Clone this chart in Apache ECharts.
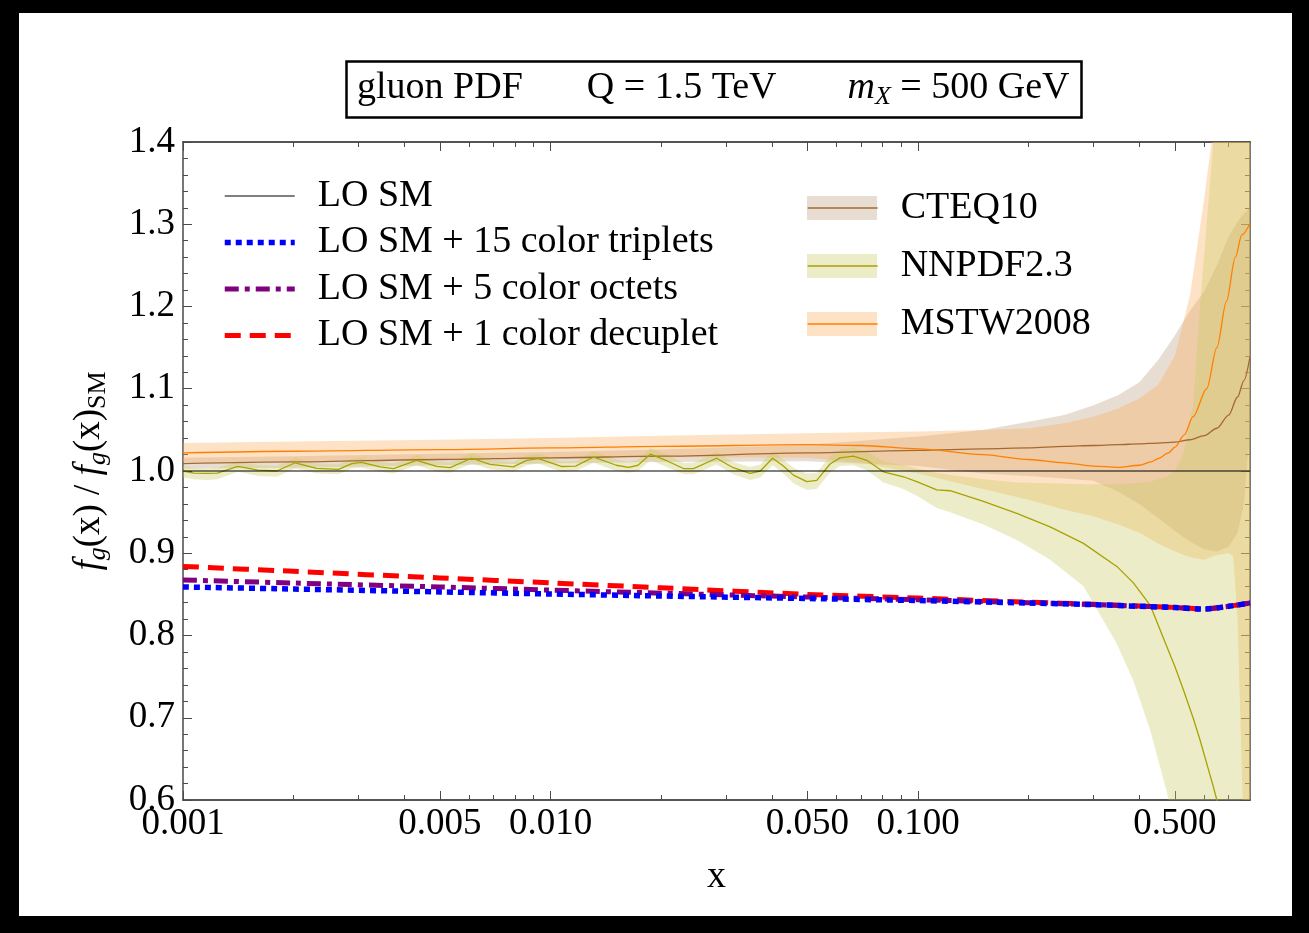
<!DOCTYPE html>
<html>
<head>
<meta charset="utf-8">
<title>gluon PDF ratio</title>
<script src="https://cdn.jsdelivr.net/npm/echarts@6/dist/echarts.min.js"></script>
<style>
  html, body { margin: 0; padding: 0; background: #000; }
  #chart { width: 1309px; height: 933px; }
</style>
</head>
<body>
<div id="chart"></div>
<script>
// x grid of the LO curves and the ratios f_g(x) / f_g(x)_SM
const xSM = [0.001, 0.002, 0.005, 0.01, 0.02, 0.05, 0.1, 0.2, 0.3, 0.4, 0.5, 0.6, 0.7, 0.8]
const loSM = [1, 1, 1, 1, 1, 1, 1, 1, 1, 1, 1, 1, 1, 1]
const triplets = [0.859, 0.8565, 0.853, 0.8505, 0.848, 0.845, 0.8425, 0.8395, 0.8375, 0.8355, 0.834, 0.8322, 0.8355, 0.8395]
const octets = [0.8675, 0.8638, 0.859, 0.8552, 0.8515, 0.8468, 0.8435, 0.8398, 0.8376, 0.8356, 0.834, 0.8322, 0.8355, 0.8395]
const decuplet = [0.884, 0.878, 0.87, 0.864, 0.858, 0.85, 0.8455, 0.8405, 0.838, 0.8358, 0.8341, 0.8323, 0.8355, 0.8395]

// CTEQ10: central value and band
const xCT = [0.001, 0.002, 0.005, 0.01, 0.02, 0.05, 0.1, 0.15, 0.2, 0.25, 0.3, 0.35, 0.4, 0.45, 0.5, 0.55, 0.6, 0.65, 0.7, 0.74, 0.77, 0.8]
const ctMid = [1.009, 1.011, 1.014, 1.016, 1.018, 1.022, 1.025, 1.027, 1.028, 1.03, 1.031, 1.032, 1.033, 1.034, 1.035, 1.038, 1.043, 1.052, 1.068, 1.09, 1.11, 1.139]
const ctUp = [1.016, 1.018, 1.021, 1.023, 1.026, 1.032, 1.042, 1.05, 1.06, 1.068, 1.08, 1.092, 1.108, 1.135, 1.165, 1.195, 1.218, 1.25, 1.285, 1.303, 1.313, 1.32]
const ctLo = [1.003, 1.004, 1.007, 1.009, 1.011, 1.012, 1.006, 0.997, 0.994, 0.991, 0.988, 0.975, 0.96, 0.943, 0.927, 0.914, 0.905, 0.902, 0.908, 0.925, 0.96, 1.05]

// MSTW2008: band grid and central grid
const xMS = [0.001, 0.002, 0.005, 0.01, 0.02, 0.05, 0.07, 0.1, 0.15, 0.2, 0.25, 0.3, 0.35, 0.4, 0.45, 0.5, 0.55, 0.6, 0.65, 0.7, 0.72, 0.74, 0.77, 0.8]
const msUp = [1.034, 1.036, 1.038, 1.04, 1.043, 1.046, 1.047, 1.048, 1.05, 1.052, 1.058, 1.066, 1.076, 1.088, 1.105, 1.14, 1.215, 1.33, 1.45, 1.6, 1.66, 1.72, 1.85, 2.0]
const msLo = [1.011, 1.012, 1.014, 1.015, 1.017, 1.016, 1.01, 0.997, 0.978, 0.965, 0.953, 0.945, 0.935, 0.925, 0.912, 0.902, 0.895, 0.892, 0.898, 0.9, 0.896, 0.82, 0.55, 0.3]
const xMSL = [0.001, 0.002, 0.005, 0.01, 0.02, 0.05, 0.07, 0.1, 0.15, 0.2, 0.25, 0.3, 0.35, 0.4, 0.43, 0.45, 0.48, 0.5, 0.53, 0.56, 0.61, 0.65, 0.69, 0.73, 0.76, 0.8]
const msMid = [1.022, 1.024, 1.026, 1.028, 1.03, 1.032, 1.031, 1.027, 1.02, 1.014, 1.01, 1.006, 1.0045, 1.007, 1.011, 1.015, 1.022, 1.029, 1.044, 1.066, 1.1, 1.15, 1.206, 1.26, 1.287, 1.301]

// NNPDF2.3 (wiggly, so many points)
const xNN = [
  0.001, 0.00107, 0.00116, 0.00124, 0.00141, 0.0016, 0.0018, 0.00202, 0.00231, 0.00265,
  0.00288, 0.00306, 0.00344, 0.00374, 0.00432, 0.0049, 0.00533, 0.0061, 0.00685, 0.00792,
  0.00861, 0.00927, 0.0107, 0.0117, 0.0131, 0.0151, 0.0163, 0.0173, 0.0187, 0.0207,
  0.023, 0.0245, 0.0283, 0.0314, 0.0349, 0.0372, 0.0402, 0.043, 0.0458, 0.0498,
  0.053, 0.0576, 0.0613, 0.0667, 0.0725, 0.0805, 0.0912, 0.0992, 0.1124, 0.1222,
  0.1506, 0.1856, 0.2287, 0.2818, 0.3473, 0.3853, 0.4279, 0.475, 0.5, 0.527,
  0.56, 0.585, 0.636, 0.65, 0.672, 0.7, 0.75, 0.8
]
const nnMid = [
  1.0, 0.9975, 0.997, 0.9975, 1.0055, 1.001, 1.0, 1.01, 1.0033, 1.002,
  1.009, 1.0105, 1.005, 1.003, 1.013, 1.0055, 1.004, 1.0155, 1.008, 1.005,
  1.013, 1.015, 1.0055, 1.006, 1.017, 1.007, 1.0045, 1.007, 1.0205, 1.0125,
  1.003, 1.003, 1.0155, 1.004, 0.997, 1.0, 1.0155, 1.006, 0.995, 0.987,
  0.9885, 1.0085, 1.016, 1.018, 1.013, 0.999, 0.993, 0.987, 0.977, 0.976,
  0.963, 0.9485, 0.932, 0.912, 0.884, 0.864, 0.837, 0.7865, 0.762, 0.734,
  0.7, 0.673, 0.616, 0.6, 0.57, 0.52, 0.43, 0.33
]
const nnUp = [
  1.006, 1.004, 1.003, 1.004, 1.012, 1.007, 1.006, 1.016, 1.009, 1.008,
  1.015, 1.016, 1.011, 1.009, 1.019, 1.012, 1.01, 1.022, 1.014, 1.011,
  1.019, 1.021, 1.012, 1.012, 1.024, 1.014, 1.011, 1.014, 1.028, 1.02,
  1.01, 1.01, 1.023, 1.011, 1.005, 1.008, 1.024, 1.014, 1.004, 0.997,
  0.998, 1.018, 1.026, 1.028, 1.024, 1.012, 1.007, 1.003, 0.998, 0.995,
  0.99, 0.986, 0.985, 0.984, 0.984, 0.985, 0.987, 0.993, 1.0, 1.02,
  1.08, 1.2, 1.4, 1.46, 1.55, 1.65, 1.8, 2.0
]
const nnLo = [
  0.992, 0.99, 0.989, 0.99, 0.999, 0.994, 0.993, 1.003, 0.997, 0.996,
  1.003, 1.004, 0.999, 0.997, 1.007, 0.999, 0.998, 1.009, 1.002, 0.999,
  1.007, 1.009, 0.999, 1.0, 1.01, 1.0, 0.998, 1.0, 1.013, 1.005,
  0.996, 0.996, 1.008, 0.996, 0.989, 0.992, 1.007, 0.997, 0.985, 0.977,
  0.978, 0.998, 1.006, 1.007, 1.001, 0.986, 0.978, 0.97, 0.955, 0.95,
  0.935, 0.916, 0.892, 0.86, 0.79, 0.745, 0.685, 0.61, 0.565, 0.52,
  0.46, 0.42, 0.33, 0.3, 0.26, 0.2, 0.1, 0.0
]

// axis ticks
const xMajor = [0.001, 0.005, 0.01, 0.05, 0.1, 0.5]
const xMinor = [0.002, 0.003, 0.004, 0.006, 0.007, 0.008, 0.009, 0.02, 0.03, 0.04, 0.06, 0.07, 0.08, 0.09, 0.2, 0.3, 0.4, 0.6, 0.7]

const FONT = "'Liberation Serif', 'Times New Roman', serif"
const AXIS = '#4a4a4a'
const lg = v => Math.log10(v)
const pts = (xs, ys) => xs.map((x, i) => [lg(x), ys[i]])

// uncertainty band: one polygon through the upper edge and back along the lower edge
function band (name, xs, lo, up, fill, swatch) {
  const data = xs.map((x, i) => [lg(x), lo[i], up[i]])
  return {
    name: name + ' band',
    type: 'custom',
    clip: true,
    silent: true,
    z: 1,
    itemStyle: { color: swatch },
    encode: { x: 0, y: [1, 2] },
    data: data,
    renderItem: (params, api) => {
      if (params.dataIndex !== 0) return
      const top = data.map(d => api.coord([d[0], d[2]]))
      const bottom = data.map(d => api.coord([d[0], d[1]])).reverse()
      return { type: 'polygon', shape: { points: top.concat(bottom) }, style: { fill: fill } }
    }
  }
}

function xAxisOf (pos, ticks, len, withLabel) {
  return {
    type: 'value', position: pos, min: lg(0.001), max: lg(0.8),
    axisLine: { show: true, onZero: false, lineStyle: { color: AXIS, width: 1.5 } },
    axisTick: { show: true, inside: true, length: len, customValues: ticks.map(lg), lineStyle: { color: AXIS, width: 1 } },
    axisLabel: withLabel
      ? { customValues: ticks.map(lg), formatter: v => Math.pow(10, v).toFixed(3), fontFamily: FONT, fontSize: 37, color: '#000', margin: 6 }
      : { show: false },
    splitLine: { show: false }
  }
}

function yAxisOf (pos, withLabel) {
  return {
    type: 'value', position: pos, min: 0.6, max: 1.4, interval: 0.1,
    axisLine: { show: true, onZero: false, lineStyle: { color: AXIS, width: 1.5 } },
    axisTick: { show: true, inside: true, length: 9, lineStyle: { color: AXIS, width: 1 } },
    minorTick: { show: true, splitNumber: 5, length: 5, lineStyle: { color: AXIS, width: 1 } },
    axisLabel: withLabel
      ? { formatter: v => v.toFixed(1), fontFamily: FONT, fontSize: 37, color: '#000', margin: 8 }
      : { show: false },
    splitLine: { show: false }
  }
}

const chart = echarts.init(document.getElementById('chart'))

const xBottom = xAxisOf('bottom', xMajor, 9, true)
xBottom.name = 'x'
xBottom.nameLocation = 'middle'
xBottom.nameGap = 58
xBottom.nameTextStyle = { fontFamily: FONT, fontSize: 38, color: '#000' }

const yLeft = yAxisOf('left', true)
yLeft.name = '{i|f}{si|g}{a|(x) / }{i|f}{si|g}{a|(x)}{s|SM}'
yLeft.nameLocation = 'middle'
yLeft.nameGap = 72
yLeft.nameTextStyle = {
  fontFamily: FONT, fontSize: 37, color: '#000',
  rich: {
    i: { fontFamily: FONT, fontSize: 37, fontStyle: 'italic', lineHeight: 44 },
    a: { fontFamily: FONT, fontSize: 37, lineHeight: 44 },
    si: { fontFamily: FONT, fontSize: 26, fontStyle: 'italic', lineHeight: 20, verticalAlign: 'bottom' },
    s: { fontFamily: FONT, fontSize: 26, lineHeight: 20, verticalAlign: 'bottom' }
  }
}

const legendText = { fontFamily: FONT, fontSize: 38, color: '#000', lineHeight: 40, padding: [0, 0, 0, 18] }

const option = {
  backgroundColor: '#000',
  animation: false,
  graphic: [
    { type: 'rect', shape: { x: 19, y: 13, width: 1273, height: 903 }, style: { fill: '#fff' }, z: -10, silent: true }
  ],
  title: {
    left: 346,
    top: 58,
    padding: [8, 12, 8, 11],
    borderColor: '#000',
    borderWidth: 2.5,
    text: '{a|gluon PDF}{g1| }{a|Q = 1.5 TeV}{g2| }{i|m}{s|X}{a| = 500 GeV}',
    textStyle: {
      fontFamily: FONT, fontSize: 38, fontWeight: 'normal', color: '#000',
      rich: {
        a: { fontFamily: FONT, fontSize: 38, lineHeight: 44, color: '#000' },
        i: { fontFamily: FONT, fontSize: 38, fontStyle: 'italic', lineHeight: 44, color: '#000' },
        s: { fontFamily: FONT, fontSize: 26, fontStyle: 'italic', lineHeight: 20, verticalAlign: 'bottom', color: '#000' },
        g1: { width: 64, fontSize: 38, lineHeight: 44 },
        g2: { width: 71, fontSize: 38, lineHeight: 44 }
      }
    }
  },
  grid: { left: 183, right: 59, top: 142, bottom: 133, containLabel: false },
  xAxis: [
    xBottom,
    xAxisOf('bottom', xMinor, 5, false),
    xAxisOf('top', xMajor, 9, false),
    xAxisOf('top', xMinor, 5, false)
  ],
  yAxis: [yLeft, yAxisOf('right', false)],
  legend: [
    // band swatches under the right legend lines
    {
      orient: 'vertical', left: 807, top: 188, padding: 0, itemWidth: 70, itemHeight: 24, itemGap: 18,
      selectedMode: false, icon: 'rect',
      data: ['CTEQ10 band', 'NNPDF2.3 band', 'MSTW2008 band'],
      formatter: n => n.replace(' band', ''),
      itemStyle: { opacity: 1, borderWidth: 0 },
      textStyle: Object.assign({}, legendText, { color: 'rgba(0,0,0,0)' })
    },
    {
      orient: 'vertical', left: 807, top: 188, padding: 0, itemWidth: 70, itemHeight: 24, itemGap: 18,
      selectedMode: false,
      data: ['CTEQ10', 'NNPDF2.3', 'MSTW2008'],
      lineStyle: { width: 'inherit' },
      itemStyle: { opacity: 0 },
      textStyle: legendText
    },
    {
      orient: 'vertical', left: 222, top: 176, padding: 0, itemWidth: 70, itemHeight: 24, itemGap: 6.5,
      selectedMode: false,
      data: ['LO SM', 'LO SM + 15 color triplets', 'LO SM + 5 color octets', 'LO SM + 1 color decuplet'],
      lineStyle: { width: 'inherit' },
      itemStyle: { opacity: 0 },
      textStyle: legendText
    }
  ],
  series: [
    band('CTEQ10', xCT, ctLo, ctUp, 'rgba(189,158,129,0.35)', '#e8ddd3'),
    band('MSTW2008', xMS, msLo, msUp, 'rgba(249,172,89,0.35)', '#fde2c5'),
    band('NNPDF2.3', xNN, nnLo, nnUp, 'rgba(201,204,98,0.35)', '#ecedc8'),
    { name: 'CTEQ10', type: 'line', data: pts(xCT, ctMid), symbol: 'none', smooth: 0.3, smoothMonotone: 'x', color: '#a5692f', lineStyle: { width: 1.3 }, z: 3 },
    { name: 'NNPDF2.3', type: 'line', data: pts(xNN, nnMid), symbol: 'none', color: '#a8a200', lineStyle: { width: 1.3 }, z: 3 },
    { name: 'MSTW2008', type: 'line', data: pts(xMSL, msMid), symbol: 'none', smooth: 0.3, smoothMonotone: 'x', color: '#ff7f00', lineStyle: { width: 1.3 }, z: 3 },
    { name: 'LO SM', type: 'line', data: pts(xSM, loSM), symbol: 'none', color: '#000', lineStyle: { width: 1.2 }, z: 4 },
    { name: 'LO SM + 1 color decuplet', type: 'line', data: pts(xSM, decuplet), symbol: 'none', smooth: 0.3, color: '#ff0000', lineStyle: { width: 5, type: [16, 9], cap: 'butt' }, z: 4 },
    { name: 'LO SM + 5 color octets', type: 'line', data: pts(xSM, octets), symbol: 'none', smooth: 0.3, color: '#800080', lineStyle: { width: 5, type: [14, 6, 5, 6], cap: 'butt' }, z: 4 },
    { name: 'LO SM + 15 color triplets', type: 'line', data: pts(xSM, triplets), symbol: 'none', smooth: 0.3, color: '#0000ff', lineStyle: { width: 5.5, type: [6, 5], cap: 'butt' }, z: 4 }
  ]
}

chart.setOption(option)
</script>
</body>
</html>
